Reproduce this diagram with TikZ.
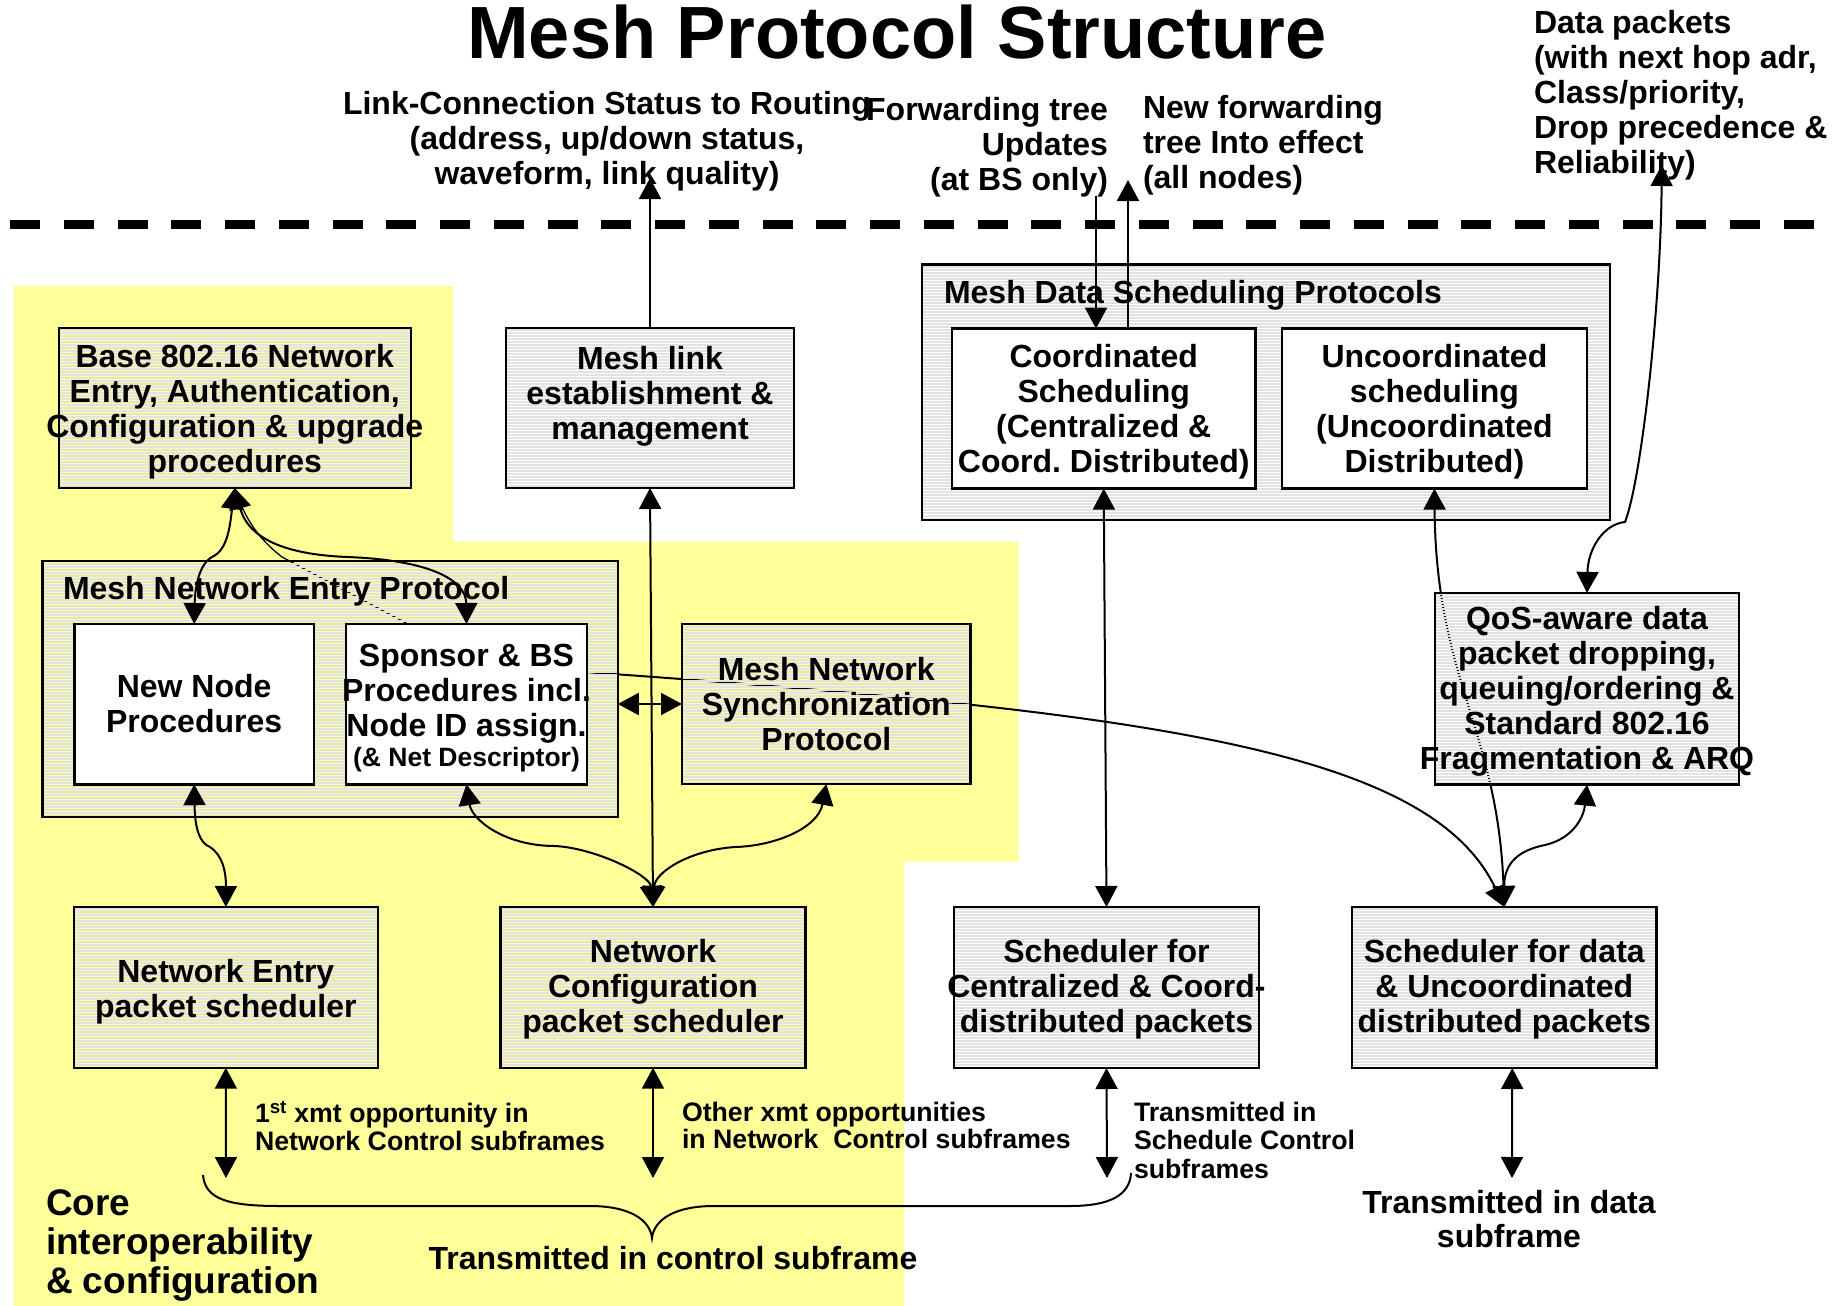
\documentclass[tikz,border=0pt]{standalone}
\usepackage{fontspec}
\setmainfont{Liberation Sans}
\usetikzlibrary{arrows.meta,patterns,calc}
\definecolor{bgyellow}{HTML}{FFFF99}
\definecolor{stripegray}{HTML}{E2E2E2}
% fine horizontal stripes, opaque rows alternating with clear rows
\pgfdeclarepatternformonly{hstripes}{\pgfpoint{-1pt}{0pt}}{\pgfpoint{5pt}{3pt}}{\pgfpoint{4pt}{3pt}}{%
  \pgfpathrectangle{\pgfpoint{-1pt}{0pt}}{\pgfpoint{6pt}{1.5pt}}\pgfusepath{fill}}
\pgfdeclarelayer{bg}
\pgfdeclarelayer{lines}
\pgfsetlayers{bg,lines,main}
\begin{document}
\frenchspacing
\begin{tikzpicture}[x=1pt,y=-1pt,>={Triangle[length=21pt,width=22pt]},
  every node/.style={inner sep=0pt,outer sep=0pt},
  bx/.style={draw,line width=2.4pt,pattern=hstripes,pattern color=stripegray},
  wbx/.style={draw,line width=2.4pt,fill=white},
  ln/.style={line width=2pt},
  thinln/.style={line width=1.3pt},
  big/.style={font=\bfseries\fontsize{32}{35}\selectfont},
  txt/.style={big,align=center,anchor=north,yshift=-2pt,execute at begin node={\rule{0pt}{25pt}}},
  txtl/.style={big,align=left,anchor=north west,yshift=-2pt,execute at begin node={\rule{0pt}{25pt}}},
  txtr/.style={big,align=right,anchor=north east,yshift=-2pt,execute at begin node={\rule{0pt}{25pt}}},
  small/.style={font=\bfseries\fontsize{26.7}{27.5}\selectfont,align=left,anchor=north west,yshift=-3pt,execute at begin node={\rule{0pt}{24pt}}},
]
\useasboundingbox (0,0) rectangle (1845,1306);

% ---- background: yellow core area and the outer scheduling frame
\begin{pgfonlayer}{bg}
  \fill[bgyellow] (14,286) -- (453,286) -- (453,541.7) -- (1018.4,541.7) -- (1018.4,861.7)
    -- (904.3,861.7) -- (904.3,1306) -- (14,1306) -- cycle;
  \node[bx,minimum width=688pt,minimum height=255.7pt] (mdsp) at (1266,392.15) {};
\end{pgfonlayer}

% ---- boxes
\node[bx,minimum width=352pt,minimum height=160pt] (base) at (234.75,408) {};
\node[bx,minimum width=288pt,minimum height=160pt] (mlink) at (650,408) {};
\node[bx,minimum width=575.4pt,minimum height=255.7pt] (entry) at (330.1,688.85) {};
\node[wbx,minimum width=239.7pt,minimum height=160.3pt] (newnode) at (194.15,704.15) {};
\node[wbx,minimum width=241pt,minimum height=160.3pt] (sponsor) at (466.5,704.15) {};
\node[bx,minimum width=288.6pt,minimum height=160pt] (sync) at (826.3,704) {};
\node[bx,minimum width=303.7pt,minimum height=160.7pt] (nesched) at (225.85,987.35) {};
\node[bx,minimum width=304.8pt,minimum height=160.7pt] (ncsched) at (653,987.35) {};
\node[bx,minimum width=305pt,minimum height=161pt] (csched) at (1106.5,987.5) {};
\node[bx,minimum width=304.5pt,minimum height=161pt] (dsched) at (1504.25,987.5) {};
\node[wbx,minimum width=303.5pt,minimum height=160pt] (coord) at (1103.75,408.6) {};
\node[wbx,minimum width=304.8pt,minimum height=160pt] (uncoord) at (1434.4,408.6) {};
\node[bx,minimum width=304pt,minimum height=191.7pt] (qos) at (1587,688.75) {};

% ---- connectors that run underneath the striped boxes
\begin{pgfonlayer}{lines}
  \draw[thinln] (base.south) .. controls (245,520) and (260,540) .. (282,557)
    -- ($(sponsor.north west)!0.257!(sponsor.north east)$);
  \draw[ln,->] ([yshift=32pt]sponsor.east) .. controls (1150,712) and (1430,750) .. (dsched.north);
  \draw[ln,<->] (uncoord.south) .. controls (1436,680) and (1498,730) .. (dsched.north);
\end{pgfonlayer}

% ---- separator line
\coordinate (sepL) at (10,224);
\coordinate (sepR) at (1815,224);
\draw[line width=9pt,dash pattern=on 30pt off 23.75pt] (sepL) -- (sepR);

% ---- texts
\node[font=\bfseries\fontsize{74}{80}\selectfont,anchor=base] (title) at (897,59) {Mesh Protocol Structure};
\node[txt] (linkT) at (607,89.5) {Link-Connection Status to Routing\\(address, up/down status,\\waveform, link quality)};
\node[txtr] (fwdT) at (1108,95.5) {Forwarding tree\\Updates\\(at BS only)};
\node[txtl] (newfT) at (1143,93.5) {New forwarding\\tree Into effect\\(all nodes)};
\node[txtl] (dataT) at (1534,8) {Data packets\\(with next hop adr,\\Class/priority,\\Drop precedence \&\\Reliability)};

\node[txt] (baseT) at (234.75,342) {Base 802.16 Network\\Entry, Authentication,\\Configuration \& upgrade\\procedures};
\node[txt] (mlinkT) at (650,344) {Mesh link\\establishment \&\\management};
\node[big,anchor=base west] (entryT) at (63,599) {Mesh Network Entry Protocol};
\node[txt] (newnodeT) at (194.15,672) {New Node\\Procedures};
\node[txt] (sponsorT) at (466.5,642) {Sponsor \& BS\\Procedures incl.\\Node ID assign.\\[-5pt]{\fontsize{26.5}{30}\selectfont(\& Net Descriptor)}};
\node[txt] (syncT) at (826.3,655) {Mesh Network\\Synchronization\\Protocol};
\node[txt] (neschedT) at (225.85,957) {Network Entry\\packet scheduler};
\node[txt] (ncschedT) at (653,937) {Network\\Configuration\\packet scheduler};
\node[txt] (cschedT) at (1106.5,937) {Scheduler for\\Centralized \& Coord-\\distributed packets};
\node[txt] (dschedT) at (1504.25,937) {Scheduler for data\\\& Uncoordinated\\distributed packets};
\node[big,anchor=base west] (mdspT) at (944,303.6) {Mesh Data Scheduling Protocols};
\node[txt] (coordT) at (1103.75,342) {Coordinated\\Scheduling\\(Centralized \&\\Coord. Distributed)};
\node[txt] (uncoordT) at (1434.4,342) {Uncoordinated\\scheduling\\(Uncoordinated\\Distributed)};
\node[txt] (qosT) at (1587,604) {QoS-aware data\\packet dropping,\\queuing/ordering \&\\Standard 802.16\\Fragmentation \& ARQ};

\node[small] (xmt1T) at (255,1098.7) {1\textsuperscript{st} xmt opportunity in\\Network Control subframes};
\node[small] (xmt2T) at (682,1098.7) {Other xmt opportunities\\in Network~~Control subframes};
\node[small,font=\bfseries\fontsize{26.7}{28.5}\selectfont] (schedCtlT) at (1134,1099) {Transmitted in\\Schedule Control\\subframes};
\node[txt,font=\bfseries\fontsize{32}{34}\selectfont] (dataSubT) at (1509,1188) {Transmitted in data\\subframe};
\node[big,anchor=base] (ctrlT) at (673,1269) {Transmitted in control subframe};
\node[anchor=north west,align=left,font=\bfseries\fontsize{37}{39}\selectfont,yshift=-4pt,
      execute at begin node={\rule{0pt}{28pt}}] (coreT) at (46,1186) {Core\\interoperability\\\& configuration};

% ---- free ends of connectors
\coordinate (lsTip) at (650,178);
\coordinate (fwdTop) at (1096,196);
\coordinate (nfTip) at (1128,180);
\coordinate (dpTip) at (1661.7,165);
\coordinate (b1) at (226,1178);
\coordinate (b2) at (653,1178);
\coordinate (b3) at (1107,1178);
\coordinate (b4) at (1512,1178);

% ---- connectors
\draw[ln,->] (mlink.north) -- (lsTip);
\draw[ln,->] (fwdTop) -- (fwdTop |- coord.north);
\draw[ln,->] (nfTip |- coord.north) -- (nfTip);
\draw[ln,<->] (qos.north) .. controls (1588,548) and (1604,524) .. (1625,522)
  .. controls (1642,478) and (1661,300) .. (dpTip);

\draw[ln,<->] (base.south) .. controls (230,525) and (228,550) .. (212,557)
  .. controls (198,565) and (195,590) .. (newnode.north);
\draw[ln,<->] (base.south) .. controls (250,545) and (300,555) .. (347,557)
  .. controls (430,560) and (466,580) .. (sponsor.north);
\draw[ln,<->] (newnode.south) .. controls (195,830) and (200,843) .. (210,847)
  .. controls (222,855) and (226,870) .. (nesched.north);
\draw[ln,<->] (entry.east |- sync.west) -- (sync.west);
\draw[ln,<->] (mlink.south) -- (ncsched.north);
\draw[ln,<->] (sponsor.south) .. controls (472,820) and (505,846) .. (555,846)
  .. controls (595,848) and (650,875) .. (ncsched.north);
\draw[ln,<->] (sync.south) .. controls (818,828) and (775,846) .. (735,847)
  .. controls (690,850) and (655,872) .. (ncsched.north);
\draw[ln,<->] (coord.south) -- (csched.north);
\draw[ln,<->] (dsched.north) .. controls (1504,862) and (1520,850) .. (1545,845)
  .. controls (1575,838) and (1584,815) .. (qos.south);

\draw[ln,<->] (nesched.south) -- (b1);
\draw[ln,<->] (ncsched.south) -- (b2);
\draw[ln,<->] (csched.south) -- (b3);
\draw[ln,<->] ([xshift=8pt]dsched.south) -- (b4);

% ---- brace grouping the control-subframe transmissions
\coordinate (brL) at (203,1175);
\coordinate (brTip) at (652,1238);
\coordinate (brR) at (1131,1173);
\draw[ln] (brL) .. controls (205,1200) and (230,1206) .. (280,1206) -- (590,1206)
  .. controls (630,1206) and (650,1220) .. (brTip)
  .. controls (654,1220) and (674,1206) .. (714,1206) -- (1070,1206)
  .. controls (1110,1206) and (1130,1195) .. (brR);
\end{tikzpicture}
\end{document}
